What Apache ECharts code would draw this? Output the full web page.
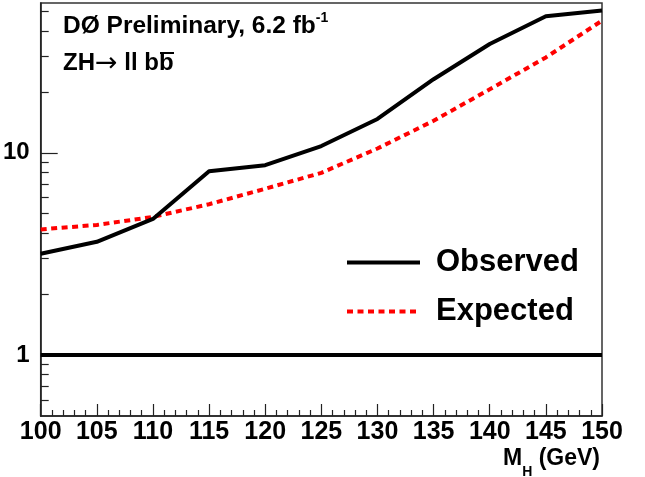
<!DOCTYPE html>
<html>
<head>
<meta charset="utf-8">
<script src="https://cdn.jsdelivr.net/npm/echarts@6/dist/echarts.min.js"></script>
<style>
  html, body { margin: 0; padding: 0; background: #fff; }
  #chart { width: 645px; height: 477px; }
</style>
</head>
<body>
<div id="chart"></div>
<script>
// Higgs mass points (GeV) and 95% CL limit ratios to the SM cross section
const massPoints = [100, 105, 110, 115, 120, 125, 130, 135, 140, 145, 150];
const observedLimit = [3.17, 3.63, 4.71, 8.10, 8.68, 10.8, 14.7, 23.1, 34.5, 47.3, 50.5];
const expectedLimit = [4.18, 4.40, 4.82, 5.57, 6.64, 7.96, 10.5, 14.4, 20.6, 29.6, 45.0];
const smLevel = 1;

// axis ranges and tick positions
const xRange = [100, 150];
const yRange = [0.5, 55];
const yMajorTicks = [1, 10];
const yMinorTicks = [0.6, 0.7, 0.8, 0.9, 2, 3, 4, 5, 6, 7, 8, 9, 20, 30, 40, 50];

const SANS = '"Liberation Sans", Arial, Helvetica, sans-serif';
const AXIS_GRAY = '#222';

const toPairs = (xs, ys) => xs.map((x, i) => [x, ys[i]]);

const chart = echarts.init(document.getElementById('chart'), null, { renderer: 'canvas' });

chart.setOption({
  animation: false,
  backgroundColor: '#fff',
  grid: {
    left: 38, right: 43, top: 3, bottom: 61,
    show: true, borderColor: '#333', borderWidth: 1.5, backgroundColor: 'transparent'
  },
  xAxis: {
    type: 'value',
    min: xRange[0], max: xRange[1], interval: 5,
    axisLine: { show: true, onZero: false, lineStyle: { color: AXIS_GRAY, width: 1.5 } },
    axisTick: { show: true, inside: true, length: 12, lineStyle: { color: AXIS_GRAY, width: 1.2 } },
    minorTick: { show: true, splitNumber: 5, length: 6, lineStyle: { color: AXIS_GRAY, width: 1.2 } },
    splitLine: { show: false },
    axisLabel: {
      color: '#000', fontFamily: SANS, fontWeight: 'bold', fontSize: 25, margin: 4,
      showMinLabel: true, showMaxLabel: true
    }
  },
  yAxis: [
    {
      type: 'log', logBase: 10,
      min: yRange[0], max: yRange[1],
      axisLine: { show: true, onZero: false, lineStyle: { color: AXIS_GRAY, width: 1.5 } },
      axisTick: { show: true, inside: true, length: 17, customValues: yMajorTicks,
                  lineStyle: { color: AXIS_GRAY, width: 1.2 } },
      axisLabel: {
        customValues: yMajorTicks,
        color: '#000', fontFamily: SANS, fontWeight: 'bold', fontSize: 24, margin: 11,
        formatter: v => String(Math.round(v))
      },
      splitLine: { show: false }
    },
    {
      type: 'log', logBase: 10,
      min: yRange[0], max: yRange[1],
      position: 'left',
      axisLine: { show: false },
      axisTick: { show: true, inside: true, length: 8, customValues: yMinorTicks,
                  lineStyle: { color: AXIS_GRAY, width: 1.2 } },
      axisLabel: { show: false },
      splitLine: { show: false }
    }
  ],
  legend: {
    data: ['Observed', 'Expected'],
    orient: 'vertical',
    left: 345, top: 247, padding: 0,
    itemWidth: 73, itemHeight: 30, itemGap: 18,
    selectedMode: false,
    itemStyle: { color: 'rgba(0,0,0,0)', borderColor: 'rgba(0,0,0,0)', borderWidth: 0 },
    lineStyle: { width: 4 },
    textStyle: {
      color: '#000', fontFamily: SANS, fontWeight: 'bold', fontSize: 31,
      padding: [3, 0, 0, 11]
    }
  },
  series: [
    {
      name: 'Observed',
      type: 'line',
      data: toPairs(massPoints, observedLimit),
      symbol: 'none',
      lineStyle: { color: '#000', width: 4 },
      itemStyle: { color: '#000' },
      z: 4
    },
    {
      name: 'Expected',
      type: 'line',
      data: toPairs(massPoints, expectedLimit),
      symbol: 'none',
      lineStyle: { color: '#ff0000', width: 4, type: [6, 4.5] },
      itemStyle: { color: '#ff0000' },
      z: 3
    },
    {
      name: 'SM',
      type: 'line',
      data: [[xRange[0], smLevel], [xRange[1], smLevel]],
      symbol: 'none',
      lineStyle: { color: '#000', width: 4 },
      z: 2
    }
  ],
  graphic: [
    {
      type: 'text', left: 63, top: 11,
      style: {
        text: '{m|DØ Preliminary, 6.2 fb}{s|-1}',
        fill: '#000',
        rich: {
          m: { fontFamily: SANS, fontWeight: 'bold', fontSize: 24.5, lineHeight: 31 },
          s: { fontFamily: SANS, fontWeight: 'bold', fontSize: 14, verticalAlign: 'top' }
        }
      }
    },
    {
      type: 'text', left: 63, top: 50,
      style: {
        text: '{m|ZH}{a|→}{m| ll bb}',
        fill: '#000',
        rich: {
          m: { fontFamily: SANS, fontWeight: 'bold', fontSize: 24, lineHeight: 30 },
          a: { fontFamily: '"DejaVu Sans", sans-serif', fontWeight: 'normal', fontSize: 27, lineHeight: 30 }
        }
      }
    },
    {
      type: 'line',
      shape: { x1: 160, y1: 53, x2: 174, y2: 53 },
      style: { stroke: '#000', lineWidth: 2 }
    },
    {
      type: 'text', right: 45, top: 447,
      style: {
        text: '{m|M}{h|H}{m| (GeV)}',
        fill: '#000',
        rich: {
          m: { fontFamily: SANS, fontWeight: 'bold', fontSize: 23 },
          h: { fontFamily: SANS, fontWeight: 'bold', fontSize: 14, verticalAlign: 'top', padding: [27, 0, 0, 0] }
        }
      }
    }
  ]
});
</script>
</body>
</html>
